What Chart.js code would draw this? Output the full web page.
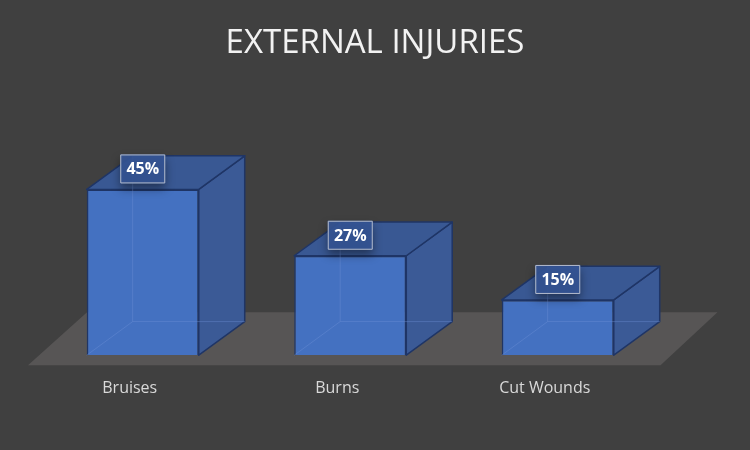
<!DOCTYPE html>
<html>
<head>
<meta charset="utf-8">
<script src="https://cdn.jsdelivr.net/npm/chart.js@4"></script>
<style>
  html, body { margin: 0; padding: 0; background: #404040; }
  #wrap { width: 750px; height: 450px; }
</style>
</head>
<body>
<div id="wrap"><canvas id="c" width="750" height="450"></canvas></div>
<script>
const chartTitle = 'EXTERNAL INJURIES';
const categories = ['Bruises', 'Burns', 'Cut Wounds'];
const values = [45, 27, 15];
const valueLabels = ['45%', '27%', '15%'];

const box3d = {
  id: 'box3d',
  beforeDatasetsDraw(chart) {
    const ctx = chart.ctx, ca = chart.chartArea;
    ctx.save();
    // title centred on the whole canvas
    ctx.fillStyle = '#f2f2f2';
    ctx.font = '33px "Open Sans", sans-serif';
    ctx.textAlign = 'center';
    ctx.textBaseline = 'middle';
    ctx.fillText(chartTitle, chart.width / 2, 44);
    // floor
    ctx.fillStyle = '#575555';
    ctx.beginPath();
    ctx.moveTo(ca.left - 11, ca.bottom + 10);
    ctx.lineTo(ca.right - 1, ca.bottom + 10);
    ctx.lineTo(ca.right + 56, ca.bottom - 43);
    ctx.lineTo(ca.left + 48, ca.bottom - 43);
    ctx.closePath();
    ctx.fill();
    ctx.restore();
  },
  afterDatasetsDraw(chart) {
    const ctx = chart.ctx;
    const meta = chart.getDatasetMeta(0);
    ctx.save();
    meta.data.forEach((bar, i) => {
      const p = bar.getProps(['x', 'y', 'base', 'width'], true);
      const l = p.x - p.width / 2, r = p.x + p.width / 2;
      const dx = p.width * 0.41, dy = p.width * 0.30;
      ctx.lineJoin = 'round';
      ctx.strokeStyle = '#1f3566';
      ctx.lineWidth = 1.5;
      // side face
      ctx.fillStyle = '#3b5a96';
      ctx.beginPath();
      ctx.moveTo(r, p.y); ctx.lineTo(r + dx, p.y - dy);
      ctx.lineTo(r + dx, p.base - dy); ctx.lineTo(r, p.base);
      ctx.closePath(); ctx.fill(); ctx.stroke();
      // top face
      ctx.fillStyle = '#395893';
      ctx.beginPath();
      ctx.moveTo(l, p.y); ctx.lineTo(l + dx, p.y - dy);
      ctx.lineTo(r + dx, p.y - dy); ctx.lineTo(r, p.y);
      ctx.closePath(); ctx.fill(); ctx.stroke();
      // hidden edges seen through
      ctx.strokeStyle = 'rgba(110,145,215,0.4)';
      ctx.lineWidth = 1;
      ctx.beginPath();
      ctx.moveTo(l, p.base); ctx.lineTo(l + dx, p.base - dy);
      ctx.lineTo(r + dx, p.base - dy);
      ctx.moveTo(l + dx, p.base - dy); ctx.lineTo(l + dx, p.y - dy);
      ctx.stroke();
      // label box
      const cx = p.x, cy = p.y - 20.5, bw = 45, bh = 29;
      ctx.save();
      ctx.shadowColor = 'rgba(0,0,0,0.45)';
      ctx.shadowBlur = 10;
      ctx.shadowOffsetY = 5;
      ctx.fillStyle = 'rgba(52,84,148,0.92)';
      ctx.fillRect(cx - bw / 2, cy - bh / 2, bw, bh);
      ctx.restore();
      ctx.strokeStyle = '#b4bccb';
      ctx.lineWidth = 1;
      ctx.strokeRect(cx - bw / 2 + 0.5, cy - bh / 2 + 0.5, bw - 1, bh - 1);
      ctx.fillStyle = '#ffffff';
      ctx.font = 'bold 16px "Open Sans", sans-serif';
      ctx.textAlign = 'center';
      ctx.textBaseline = 'middle';
      ctx.fillText(valueLabels[i], cx, cy + 1);
    });
    ctx.restore();
  }
};

new Chart(document.getElementById('c'), {
  type: 'bar',
  data: {
    labels: categories,
    datasets: [{
      data: values,
      backgroundColor: '#4471c1',
      borderColor: '#1f3566',
      borderWidth: 1.5,
      barPercentage: 0.9,
      categoryPercentage: 0.6
    }]
  },
  options: {
    responsive: false,
    animation: false,
    events: [],
    layout: { padding: { left: 39, right: 88.5, top: 82.6, bottom: 27.6 } },
    plugins: {
      legend: { display: false },
      tooltip: { enabled: false },
      title: { display: false }
    },
    scales: {
      x: {
        grid: { display: false, drawTicks: false },
        border: { display: false },
        ticks: { color: '#d9d9d9', font: { family: 'Open Sans', size: 16 }, padding: 24, labelOffset: -13 }
      },
      y: { display: false, min: 0, max: 74 }
    }
  },
  plugins: [box3d]
});
</script>
</body>
</html>
